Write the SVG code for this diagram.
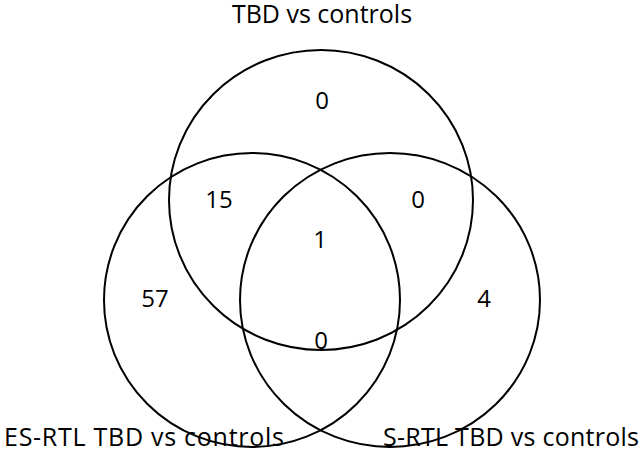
<svg xmlns="http://www.w3.org/2000/svg" width="644" height="450" viewBox="0 0 644 450">
<style>
.s{fill:none;stroke:#000;stroke-width:2}
text{font-family:"Open Sans","Liberation Sans",sans-serif;font-size:24px;fill:#000;text-anchor:middle}
.l{font-size:25px}
</style>
<rect width="644" height="450" fill="#fff"/>
<g id="connectors"></g>
<g id="setA"><ellipse class="s" cx="321" cy="200" rx="152" ry="150"/><text class="l" x="322" y="23">TBD vs controls</text></g>
<g id="setB"><ellipse class="s" cx="252" cy="300" rx="148" ry="147"/><text class="l" x="144" y="446" textLength="280" lengthAdjust="spacing">ES-RTL TBD vs controls</text></g>
<g id="setC"><ellipse class="s" cx="390" cy="300" rx="150" ry="147"/><text class="l" x="511" y="446" textLength="256" lengthAdjust="spacing">S-RTL TBD vs controls</text></g>
<g id="counts">
<text x="322" y="109">0</text>
<text x="219" y="208">15</text>
<text x="418" y="208">0</text>
<text x="320" y="248">1</text>
<text x="155" y="307">57</text>
<text x="321" y="349">0</text>
<text x="484" y="307">4</text>
</g>
</svg>
